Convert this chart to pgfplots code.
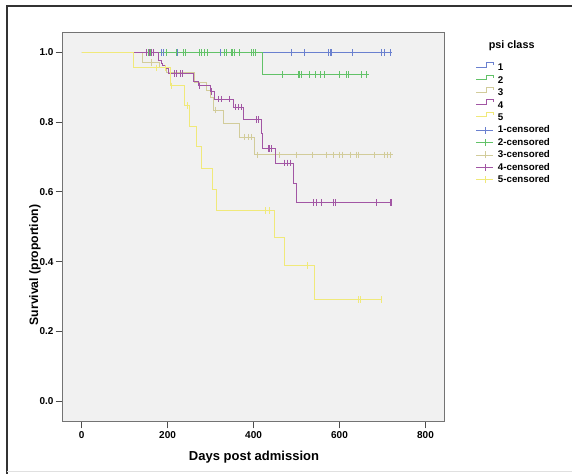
\documentclass[border=0pt]{standalone}
\usepackage{fontspec}
\setmainfont{Liberation Sans}
\usepackage{pgfplots}
\pgfplotsset{compat=1.18}
\definecolor{cA}{HTML}{6A80CF}
\definecolor{cB}{HTML}{62C268}
\definecolor{cC}{HTML}{D2CC9A}
\definecolor{cD}{HTML}{A256A4}
\definecolor{cE}{HTML}{F0E97A}
\definecolor{PlotBg}{HTML}{F1F1F1}

\pgfplotsset{
  km/.style={const plot, line width=0.9bp, forget plot},
  cens/.style={only marks, mark=|, mark size=3.3bp, mark options={line width=1bp}, forget plot},
  kmstep/.style={line width=0.9bp, legend image code/.code={%
    \draw[##1] (0bp,1bp)--(10bp,1bp)--(10bp,5.5bp)--(16.5bp,5.5bp)--(16.5bp,3bp);}},
  kmcens/.style={line width=0.9bp, legend image code/.code={%
    \draw[##1] (0bp,0bp)--(17bp,0bp); \draw[##1] (8.5bp,-3.5bp)--(8.5bp,3.5bp);}},
}

\begin{document}
\begin{tikzpicture}[x=1bp,y=1bp]
\useasboundingbox (0,0) rectangle (572,474);
\fill[white] (0,0) rectangle (572,474);
\draw[black!80, line width=1.2bp] (7,0) -- (7,468) -- (572,468);
\draw[black!12, line width=1bp] (7,2.3) -- (572,2.3);

\begin{axis}[
  at={(62.7bp,52.5bp)}, anchor=south west,
  scale only axis, width=381.7bp, height=388.8bp,
  xmin=-44, xmax=844, ymin=-0.0588, ymax=1.0568,
  axis background/.style={fill=PlotBg},
  axis line style={draw=black!55, line width=0.8bp},
  xtick={0,200,400,600,800}, ytick={0,0.2,0.4,0.6,0.8,1.0},
  tick pos=left, tick align=outside, major tick length=7bp,
  tick style={draw=black!70, line width=0.8bp},
  /pgf/number format/assume math mode=true,
  ticklabel style={font=\fontsize{10bp}{12bp}\selectfont\bfseries},
  y tick label style={/pgf/number format/fixed, /pgf/number format/fixed zerofill,
    /pgf/number format/precision=1, /tikz/anchor=east, /tikz/inner sep=0pt, /tikz/xshift=-2bp},
  x tick label style={/pgf/number format/fixed, /pgf/number format/precision=0,
    /tikz/anchor=base, /tikz/inner sep=0pt, /tikz/yshift=-10.1bp},
  xlabel={Days post admission}, ylabel={Survival (proportion)},
  every axis x label/.style={at={(rel axis cs:0.5012,-0.1016)}, anchor=base,
    font=\fontsize{13bp}{15bp}\selectfont\bfseries},
  every axis y label/.style={at={(rel axis cs:-0.0726,0.4025)}, rotate=90, anchor=center,
    font=\fontsize{12.2bp}{14bp}\selectfont\bfseries},
  legend style={draw=none, fill=none, at={(1.0828,0.9247)}, anchor=north west,
    inner sep=0pt, outer sep=0pt, row sep=0pt, column sep=4bp,
    font=\fontsize{9.75bp}{12bp}\selectfont\bfseries,
    nodes={inner sep=0pt, text height=9bp, text depth=3.4bp}},
  legend cell align=left,
  clip=false,
]
% group 1
\addplot[km, cA] coordinates {(0,1) (722,1)};
\addplot[cens, cA] coordinates {(155,1) (186,1) (190,1) (223,1) (324,1) (489,1) (518,1) (574,1) (578,1) (582,1) (630,1) (698,1) (704,1) (718,1)};
% group 2
\addplot[km, cB] coordinates {(0,1) (420,0.937) (668,0.937)};
\addplot[cens, cB] coordinates {(150,1) (155,1) (160,1) (198,1) (221,1) (238,1) (241,1) (275,1) (280,1) (285,1) (292,1) (332,1) (336,1) (348,1) (352,1) (356,1) (368,1) (396,1) (400,1) (404,1)
  (468,0.937) (504,0.937) (508,0.937) (512,0.937) (530,0.937) (543,0.937) (556,0.937) (564,0.937) (599,0.937) (617,0.937) (622,0.937) (652,0.937) (662,0.937)};
% group 3
\addplot[km, cC] coordinates {(0,1) (142,0.972) (182,0.957) (198,0.942) (262,0.915) (290,0.89) (300,0.87) (306,0.835) (330,0.797) (368,0.757) (403,0.706) (725,0.706)};
\addplot[cens, cC] coordinates {(163,0.972) (312,0.835) (380,0.757) (388,0.757) (396,0.757) (409,0.706) (460,0.706) (501,0.706) (537,0.706) (570,0.706) (586,0.706) (600,0.706) (607,0.706) (626,0.706) (640,0.706) (644,0.706) (681,0.706) (705,0.706) (711,0.706) (719,0.706)};
% group 4
\addplot[km, cD] coordinates {(0,1) (179,0.978) (186,0.969) (189,0.962) (194,0.955) (202,0.94) (260,0.916) (272,0.904) (299,0.888) (310,0.866) (353,0.843) (376,0.807) (418,0.768) (421,0.725) (450,0.683) (493,0.625) (500,0.57) (722,0.57)};
\addplot[cens, cD] coordinates {(150,1) (157,1) (163,1) (167,1) (217,0.94) (221,0.94) (229,0.94) (234,0.94) (275,0.904) (303,0.888) (318,0.866) (326,0.866) (345,0.866) (358,0.843) (365,0.843) (372,0.843) (406,0.807) (411,0.807)
  (434,0.725) (438,0.725) (442,0.725) (473,0.683) (479,0.683) (485,0.683) (539,0.57) (547,0.57) (559,0.57) (586,0.57) (590,0.57) (685,0.57) (718,0.57) (722,0.57)};
% group 5
\addplot[km, cE] coordinates {(0,1) (120,0.956) (207,0.904) (239,0.848) (250,0.787) (268,0.73) (279,0.668) (305,0.606) (313,0.546) (448,0.468) (472,0.389) (541,0.291) (697,0.291)};
\addplot[cens, cE] coordinates {(175,0.956) (195,0.956) (210,0.904) (247,0.848) (427,0.546) (438,0.546) (525,0.389) (644,0.291) (648,0.291) (697,0.291)};

\addlegendimage{kmstep, cA} \addlegendentry{1}
\addlegendimage{kmstep, cB} \addlegendentry{2}
\addlegendimage{kmstep, cC} \addlegendentry{3}
\addlegendimage{kmstep, cD} \addlegendentry{4}
\addlegendimage{kmstep, cE} \addlegendentry{5}
\addlegendimage{kmcens, cA} \addlegendentry{1-censored}
\addlegendimage{kmcens, cB} \addlegendentry{2-censored}
\addlegendimage{kmcens, cC} \addlegendentry{3-censored}
\addlegendimage{kmcens, cD} \addlegendentry{4-censored}
\addlegendimage{kmcens, cE} \addlegendentry{5-censored}
\end{axis}
\node[font=\fontsize{10.8bp}{13bp}\selectfont\bfseries] at (511.7,428) {psi class};
\end{tikzpicture}
\end{document}
